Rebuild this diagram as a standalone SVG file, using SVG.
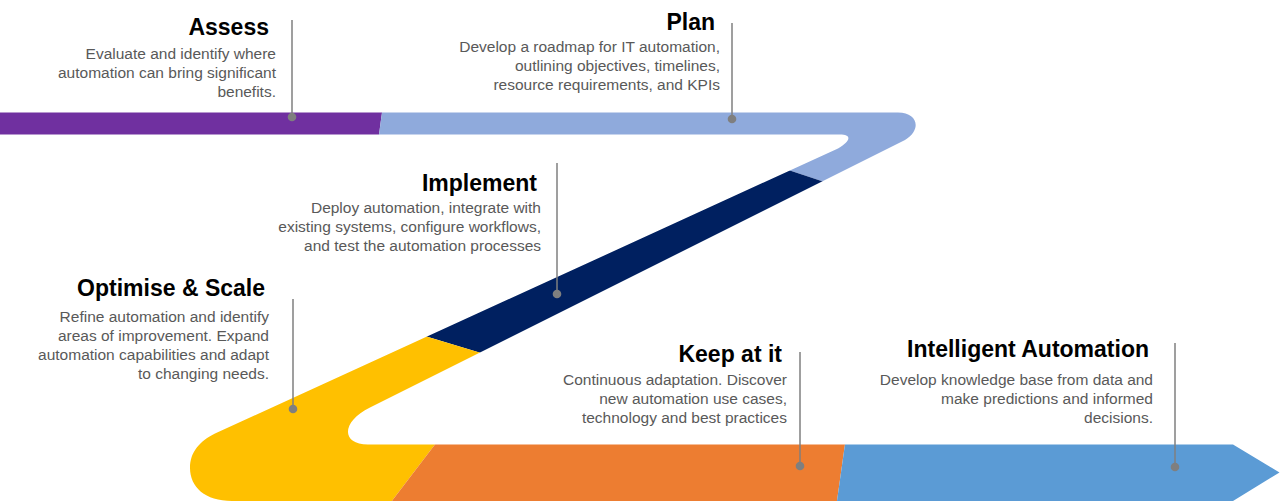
<svg xmlns="http://www.w3.org/2000/svg" width="1280" height="501" viewBox="0 0 1280 501">
<style>
.t{font-family:"Liberation Sans",Arial,sans-serif;font-weight:bold;font-size:23px;fill:#000;text-anchor:end}
.d{font-family:"Liberation Sans",Arial,sans-serif;font-size:15.5px;fill:#595959;text-anchor:end}
.ld{stroke:#7F7F7F;stroke-width:1.5;fill:none}
.dot{fill:#7F7F7F}
</style>
<defs>
<clipPath id="track">
<path d="M0,112.5 L898,112.5 C918,112.5 922,130 905,140 L370,407.5 C342,421 340,444.5 368,444.5 L1233,444.5 L1279.5,472.5 L1233,501 L232,501 C205,501 190,487 190,468 C190,452 200,441 215,433.6 L838,148.5 C852,140 851,134.5 840,134.5 L0,134.5 Z"/>
</clipPath>
</defs>
<rect width="1280" height="501" fill="#fff"/>
<g id="assess">
<polygon clip-path="url(#track)" fill="#7030A0" points="0,100 383.7,100 376.9,150 0,150"/>
<text class="t" x="269" y="35">Assess</text>
<text class="d"><tspan x="276" y="59">Evaluate and identify where</tspan><tspan x="276" y="78">automation can bring significant</tspan><tspan x="276" y="97">benefits.</tspan></text>
</g>
<g id="plan">
<polygon clip-path="url(#track)" fill="#8FAADC" points="383.7,100 940,100 940,196.5 868,196.5 745,155.5 376.9,150"/>
<text class="t" x="715" y="30">Plan</text>
<text class="d"><tspan x="720" y="52">Develop a roadmap for IT automation,</tspan><tspan x="720" y="71">outlining objectives, timelines,</tspan><tspan x="720" y="90">resource requirements, and KPIs</tspan></text>
</g>
<g id="implement">
<polygon clip-path="url(#track)" fill="#002060" points="745,155.5 868,196.5 520,364.8 400,328.6"/>
<text class="t" x="537" y="191">Implement</text>
<text class="d"><tspan x="541" y="213">Deploy automation, integrate with</tspan><tspan x="541" y="232">existing systems, configure workflows,</tspan><tspan x="541" y="251">and test the automation processes</tspan></text>
</g>
<g id="optimise">
<polygon clip-path="url(#track)" fill="#FFC000" points="400,328.6 520,364.8 446,430 385,510 150,510 150,300"/>
<text class="t" x="265" y="296">Optimise &amp; Scale</text>
<text class="d"><tspan x="269" y="322">Refine automation and identify</tspan><tspan x="269" y="341">areas of improvement. Expand</tspan><tspan x="269" y="360">automation capabilities and adapt</tspan><tspan x="269" y="379">to changing needs.</tspan></text>
</g>
<g id="keep">
<polygon clip-path="url(#track)" fill="#ED7D31" points="446,430 847,430 835.7,510 385,510"/>
<text class="t" x="782" y="362">Keep at it</text>
<text class="d"><tspan x="787" y="385">Continuous adaptation. Discover</tspan><tspan x="787" y="404">new automation use cases,</tspan><tspan x="787" y="423">technology and best practices</tspan></text>
</g>
<g id="intelligent">
<polygon clip-path="url(#track)" fill="#5B9BD5" points="847,430 1290,430 1290,510 835.7,510"/>
<text class="t" x="1149" y="357">Intelligent Automation</text>
<text class="d"><tspan x="1153" y="385">Develop knowledge base from data and</tspan><tspan x="1153" y="404">make predictions and informed</tspan><tspan x="1153" y="423">decisions.</tspan></text>
</g>
<g id="connectors">
<line class="ld" x1="292" y1="20" x2="292" y2="117"/><circle class="dot" cx="292" cy="117" r="4.3"/>
<line class="ld" x1="732" y1="23" x2="732" y2="119"/><circle class="dot" cx="732" cy="119" r="4.3"/>
<line class="ld" x1="557" y1="163" x2="557" y2="294"/><circle class="dot" cx="557" cy="294" r="4.3"/>
<line class="ld" x1="293" y1="299" x2="293" y2="409"/><circle class="dot" cx="293" cy="409" r="4.3"/>
<line class="ld" x1="800" y1="352" x2="800" y2="466"/><circle class="dot" cx="800" cy="466" r="4.3"/>
<line class="ld" x1="1175" y1="343" x2="1175" y2="467"/><circle class="dot" cx="1175" cy="467" r="4.3"/>
</g>
</svg>
